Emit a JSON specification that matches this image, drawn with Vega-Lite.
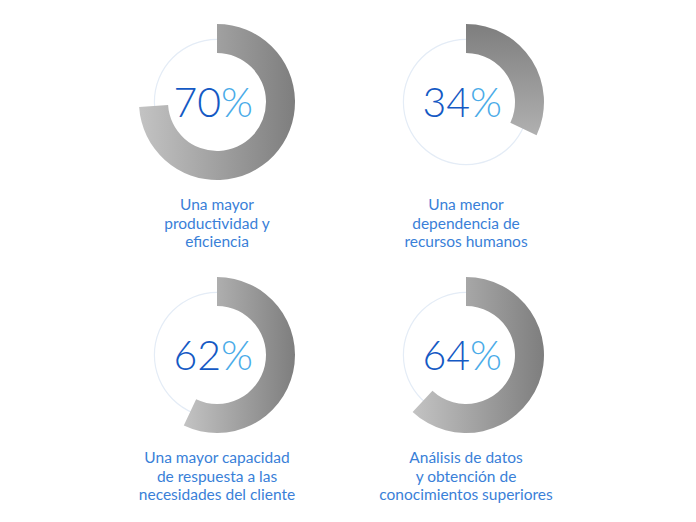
{
  "$schema": "https://vega.github.io/schema/vega-lite/v6.json",
  "width": 696,
  "height": 522,
  "padding": 0,
  "autosize": {"type": "none"},
  "background": "white",
  "config": {"view": {"stroke": null}},
  "data": {
    "values": [
      {"id": "a", "col": 0, "row": 0, "value": 70, "arc": 74, "num": "70", "label": "Una mayor\nproductividad y\neficiencia"},
      {"id": "b", "col": 1, "row": 0, "value": 34, "arc": 32, "num": "34", "label": "Una menor\ndependencia de\nrecursos humanos"},
      {"id": "c", "col": 0, "row": 1, "value": 62, "arc": 57, "num": "62", "label": "Una mayor capacidad\nde respuesta a las\nnecesidades del cliente"},
      {"id": "d", "col": 1, "row": 1, "value": 64, "arc": 62, "num": "64", "label": "Análisis de datos\ny obtención de\nconocimientos superiores"}
    ]
  },
  "encoding": {
    "x": {"field": "col", "type": "quantitative", "scale": {"domain": [-0.8715, 1.9237], "range": [0, 696]}, "axis": null},
    "y": {"field": "row", "type": "quantitative", "scale": {"domain": [-0.4032, 1.66], "range": [0, 522]}, "axis": null}
  },
  "layer": [
    {
      "mark": {"type": "arc", "innerRadius": 62, "outerRadius": 63.2, "theta": 0, "theta2": 6.2832, "fill": "#e4ecf6"}
    },
    {
      "transform": [{"filter": "datum.id !== 'b'"}],
      "mark": {"type": "arc", "innerRadius": 49, "outerRadius": 78,
        "fill": {"gradient": "linear", "x1": 0, "y1": 0, "x2": 1, "y2": 0,
          "stops": [{"offset": 0, "color": "#c3c3c3"}, {"offset": 1, "color": "#7e7e7e"}]}},
      "encoding": {
        "theta": {"field": "arc", "type": "quantitative", "stack": null, "scale": {"domain": [0, 100], "range": [0, 6.2832]}},
        "theta2": {"datum": 0}
      }
    },
    {
      "transform": [{"filter": "datum.id === 'b'"}],
      "mark": {"type": "arc", "innerRadius": 49, "outerRadius": 78,
        "fill": {"gradient": "linear", "x1": 0, "y1": 0, "x2": 0, "y2": 1,
          "stops": [{"offset": 0, "color": "#7e7e7e"}, {"offset": 1, "color": "#b0b0b0"}]}},
      "encoding": {
        "theta": {"field": "arc", "type": "quantitative", "stack": null, "scale": {"domain": [0, 100], "range": [0, 6.2832]}},
        "theta2": {"datum": 0}
      }
    },
    {
      "mark": {"type": "text", "align": "right", "baseline": "alphabetic", "dx": 4, "dy": 15, "font": "Lato", "fontWeight": 300, "fontSize": 41, "color": "#1459c4"},
      "encoding": {"text": {"field": "num"}}
    },
    {
      "mark": {"type": "text", "align": "left", "baseline": "alphabetic", "dx": 4, "dy": 15, "font": "Lato", "fontWeight": 300, "fontSize": 41, "color": "#4aabe8"},
      "encoding": {"text": {"value": "%"}}
    },
    {
      "mark": {"type": "text", "align": "center", "baseline": "alphabetic", "dy": 108, "lineBreak": "\n", "lineHeight": 18.5, "font": "Lato", "fontSize": 15.5, "color": "#3a7fd8"},
      "encoding": {"text": {"field": "label"}}
    }
  ]
}
